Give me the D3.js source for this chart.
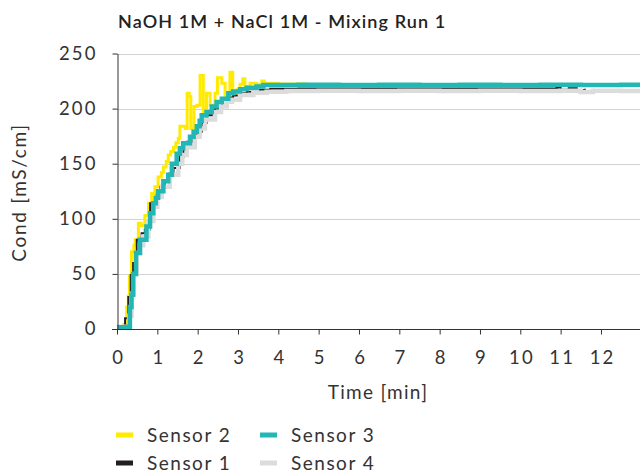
<!DOCTYPE html>
<html>
<head>
<meta charset="utf-8">
<script src="https://cdn.jsdelivr.net/npm/d3@7"></script>
<style>
  html, body { margin: 0; padding: 0; background: #fff; }
  svg { display: block; }
  text { font-family: Lato, "Open Sans", sans-serif; fill: #333; }
</style>
</head>
<body>
<svg id="chart" width="640" height="476"></svg>
<script>
// ---- data ----
const title = "NaOH 1M + NaCl 1M - Mixing Run 1";
const xLabel = "Time [min]";
const yLabel = "Cond [mS/cm]";
const xTicks = [0,1,2,3,4,5,6,7,8,9,10,11,12];
const yTicks = [0,50,100,150,200,250];
const seriesNames = ["Sensor 2", "Sensor 1", "Sensor 4", "Sensor 3"]; // draw order
const legendOrder = ["Sensor 2", "Sensor 3", "Sensor 1", "Sensor 4"];

// [time in min, conductivity in mS/cm]
const sensor2 = [[0,1.5],[0.17,4],[0.24,20],[0.28,30],[0.31,48],[0.36,70],[0.42,76],[0.45,81],[0.53,96],[0.6,94],[0.69,103],[0.78,114],[0.86,123],[0.94,129],[1.02,138],[1.1,142],[1.15,147],[1.22,152],[1.27,158],[1.33,161],[1.4,165],[1.46,169],[1.52,173],[1.56,184],[1.69,182],[1.74,214],[1.79,211],[1.83,182],[1.91,202],[1.98,203],[2.06,230],[2.14,197],[2.22,214],[2.31,203],[2.43,214],[2.49,228],[2.6,223],[2.68,212],[2.8,233],[2.87,214],[2.97,217],[3.05,222],[3.12,227],[3.17,220],[3.3,223],[3.45,222],[3.59,225],[3.65,223],[4.0,222.4],[4.7,221.8],[5.5,221.6],[6.5,221.5],[7.5,221.6],[8.5,221.5],[9.5,221.6],[10.5,221.5],[11.5,221.6],[12.5,221.5],[13,221.6]];
const sensor3 = [[0,1.5],[0.28,2],[0.32,20],[0.36,31],[0.4,50],[0.47,69],[0.57,81],[0.73,93],[0.82,105],[0.9,114],[0.96,119],[1.02,125],[1.15,134],[1.27,140],[1.36,150],[1.48,159],[1.56,164],[1.64,168.5],[1.81,174.5],[1.9,179],[1.98,184],[2.05,189],[2.1,194],[2.22,197],[2.35,202],[2.47,206],[2.6,209],[2.76,214],[2.88,215.5],[3.05,217.5],[3.22,219],[3.46,220],[3.63,221.4],[4.5,221.6],[5.5,221.5],[6.5,221.6],[7.5,221.5],[8.5,221.6],[9.5,221.5],[10.5,221.6],[11.5,221.5],[12.5,221.6],[13,221.5]];
const sensor1 = [[0,1.5],[0.2,9.7],[0.28,29],[0.34,49],[0.4,60],[0.49,81],[0.61,87],[0.69,90],[0.82,114],[0.98,121.6],[1.07,129],[1.19,135],[1.3,141],[1.4,146],[1.56,156],[1.65,163],[1.73,170],[1.85,175],[1.98,179],[2.1,187],[2.22,194],[2.43,200],[2.6,208],[2.75,210],[2.88,212],[3.05,214],[3.22,215.3],[3.55,217],[3.8,218],[4.5,218.2],[5.5,218.3],[6.5,218.2],[7.5,218.3],[8.5,218.2],[9.5,218.3],[10.5,218.2],[10.9,219],[11.0,217],[11.2,218.5],[11.4,216.8],[11.6,218]];
const sensor4 = [[0,2],[0.23,2],[0.3,12],[0.36,32],[0.42,50],[0.49,69],[0.57,76],[0.65,84],[0.78,98],[0.9,111],[1.0,120],[1.11,129],[1.31,140],[1.52,150],[1.62,158],[1.73,165],[1.93,174.5],[2.05,182],[2.18,190],[2.43,197],[2.58,202],[2.72,206.3],[2.85,208],[3.05,212.3],[3.38,214.4],[3.71,215.3],[4.2,216],[5,216.2],[6,216],[7,216.2],[8,216],[9,216.2],[10,216],[11,216.2],[11.5,215],[11.8,216.2],[12.5,216],[13,216.1]];

const dataByName = {"Sensor 2": sensor2, "Sensor 3": sensor3, "Sensor 1": sensor1, "Sensor 4": sensor4};
const colors = {"Sensor 2": "#ffea00", "Sensor 3": "#22b7b4", "Sensor 1": "#231f20", "Sensor 4": "#dcdcdc"};
const widths = {"Sensor 2": 3, "Sensor 3": 4.5, "Sensor 1": 2, "Sensor 4": 4.5};

// ---- layout ----
const svg = d3.select("#chart");
const x = d3.scaleLinear().domain([0, 13]).range([117, 641.3]);
const y = d3.scaleLinear().domain([0, 250]).range([329, 53.5]);

// title
svg.append("text").attr("x", 118).attr("y", 28)
  .style("font-size", "18px").style("font-weight", "600").style("letter-spacing", "1.1px").style("fill", "#222")
  .text(title);

// grid
svg.append("g").selectAll("line").data(yTicks.filter(d => d > 0)).join("line")
  .attr("x1", x(0)).attr("x2", 640)
  .attr("y1", d => Math.round(y(d)) + 0.5).attr("y2", d => Math.round(y(d)) + 0.5)
  .attr("stroke", "#d3d3d3").attr("stroke-width", 1);

// clip
svg.append("clipPath").attr("id", "clip").append("rect")
  .attr("x", x(0)).attr("y", 40).attr("width", 640 - x(0)).attr("height", 300);

const line = d3.line().x(d => x(d[0])).y(d => y(d[1])).curve(d3.curveStepAfter);
const lines = svg.append("g").attr("clip-path", "url(#clip)");
seriesNames.forEach(name => {
  lines.append("path").datum(dataByName[name])
    .attr("d", line).attr("fill", "none")
    .attr("stroke", colors[name]).attr("stroke-width", widths[name])
    .attr("stroke-linejoin", "miter");
});

// axes
const tickLS = 2.2;
const yAxis = svg.append("g").attr("transform", `translate(${Math.round(x(0)) + 0.5},0)`)
  .call(d3.axisLeft(y).tickValues(yTicks).tickSize(5).tickSizeOuter(0).tickPadding(14.8));
const xAxis = svg.append("g").attr("transform", `translate(0,${Math.round(y(0)) + 0.5})`)
  .call(d3.axisBottom(x).tickValues(xTicks).tickSize(5).tickSizeOuter(0).tickPadding(16).tickFormat(d3.format("d")));
[yAxis, xAxis].forEach(a => {
  a.selectAll("path").attr("stroke", "#333");
  a.selectAll("line").attr("stroke", "#333");
  a.selectAll("text").style("font-size", "18.5px").style("font-family", "Lato, sans-serif")
    .style("letter-spacing", tickLS + "px").attr("fill", "#333");
});
xAxis.selectAll(".tick text").attr("dx", tickLS / 2);
xAxis.select("path").attr("d", `M${x(0) - 5},0H640`);

// axis titles
svg.append("text").attr("x", 378).attr("y", 399).attr("text-anchor", "middle")
  .style("font-size", "19px").style("letter-spacing", "1.3px").text(xLabel);
svg.append("text").attr("transform", "translate(25.5,192.5) rotate(-90)").attr("text-anchor", "middle")
  .style("font-size", "19px").style("letter-spacing", "1.7px").text(yLabel);

// legend
const legendPos = [[116, 435], [260, 435], [116, 463], [260, 463]];
const lg = svg.append("g");
legendOrder.forEach((name, i) => {
  const [lx, ly] = legendPos[i];
  lg.append("rect").attr("x", lx).attr("y", ly - 2.5).attr("width", 17).attr("height", 5)
    .attr("fill", colors[name]);
  lg.append("text").attr("x", lx + 31).attr("y", ly + 7)
    .style("font-size", "19px").style("letter-spacing", "1.5px").text(name);
});
</script>
</body>
</html>
